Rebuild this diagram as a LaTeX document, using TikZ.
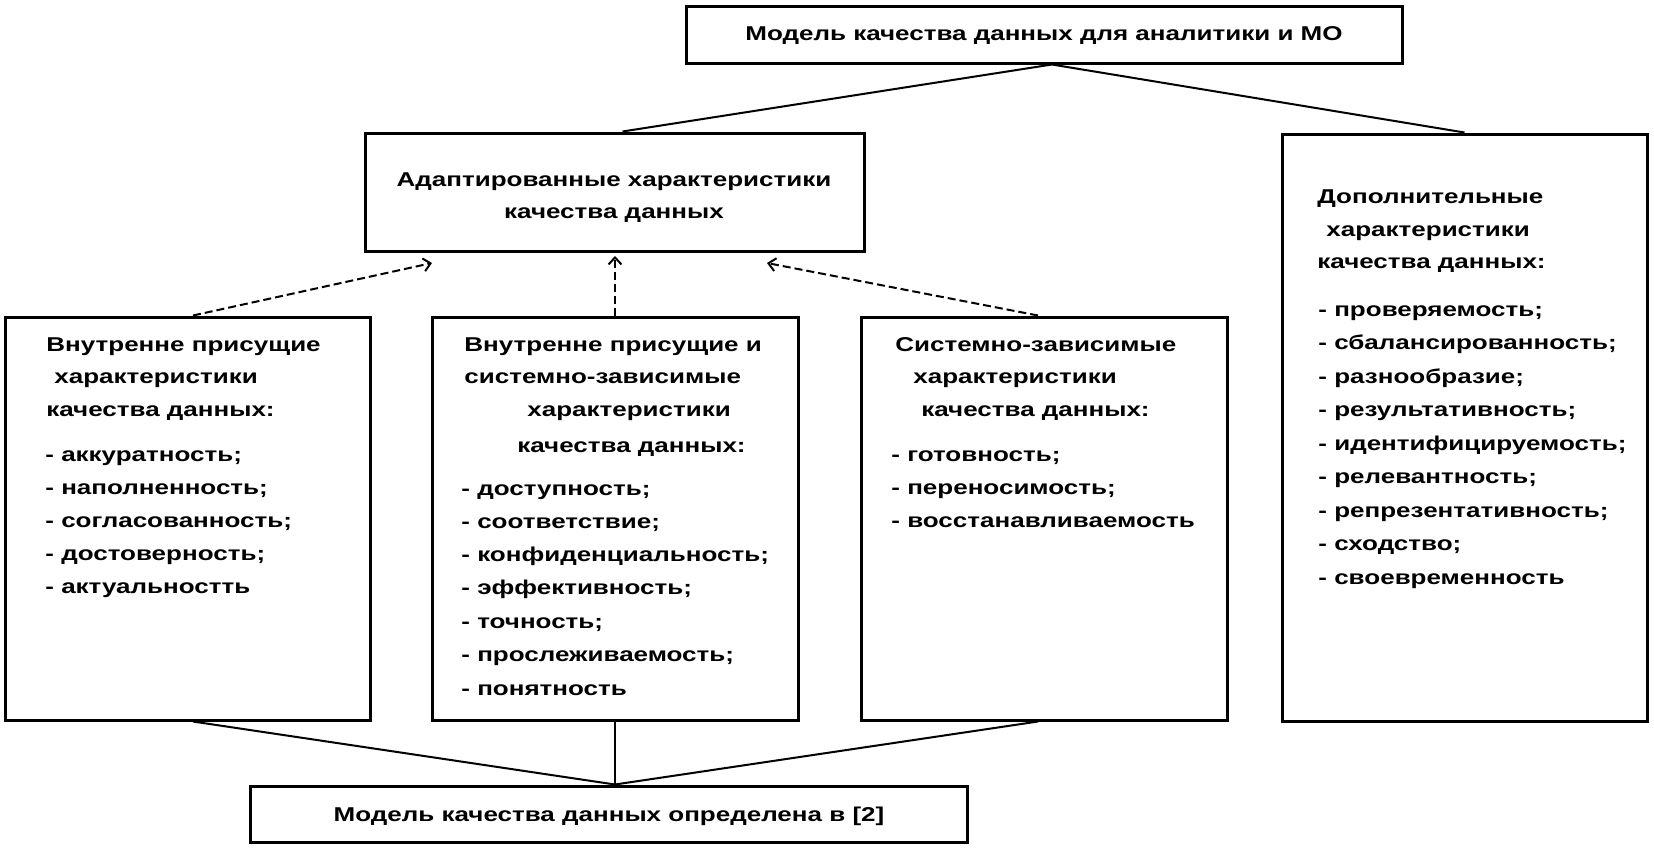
\documentclass[tikz,border=0pt]{standalone}
\usepackage{fontspec}
\setmainfont[FakeStretch=1.3]{Liberation Sans}
\usetikzlibrary{fit,arrows.meta,calc}
\begin{document}
\begin{tikzpicture}[x=0.5pt,y=-0.5pt,
  box/.style={draw, line width=1.5pt, inner sep=0pt},
  tx/.style={anchor=base west, inner sep=0pt, font=\fontsize{10}{12}\selectfont\bfseries},
  ctx/.style={anchor=base, inner sep=0pt, font=\fontsize{10}{12}\selectfont\bfseries},
  conn/.style={line width=1pt},
  thinconn/.style={line width=0.7pt},
  dconn/.style={line width=1pt, dash pattern=on 4pt off 2pt, -{Straight Barb[length=3.5pt,width=6.5pt]}}]
\useasboundingbox (0,0) rectangle (1654,848);
% boxes
\node[box, fit={(686,6) (1402,63)}] (top) {};
\node[box, fit={(365,133) (864,251)}] (adapt) {};
\node[box, fit={(5,317) (370,720)}] (b1) {};
\node[box, fit={(432,317) (798,720)}] (b2) {};
\node[box, fit={(861,317) (1227,720)}] (b3) {};
\node[box, fit={(1282,134) (1647,721)}] (rb) {};
\node[box, fit={(250,786) (967,842)}] (bot) {};
% texts
\node[ctx] (toptxt) at (1044,40) {Модель качества данных для аналитики и МО};
\node[ctx] (ad1) at (614,186) {Адаптированные характеристики};
\node[ctx] (ad2) at (614,218) {качества данных};
\node[ctx] (bottxt) at (609,821) {Модель качества данных определена в [2]};
% box 1
\node[tx] (b1l1) at (46,351) {Внутренне присущие};
\node[tx] (b1l2) at (54,383.5) {характеристики};
\node[tx] (b1l3) at (46,416) {качества данных:};
\node[tx] (b1i1) at (45,461) {- аккуратность;};
\node[tx] (b1i2) at (45,494) {- наполненность;};
\node[tx] (b1i3) at (45,527) {- согласованность;};
\node[tx] (b1i4) at (45,560) {- достоверность;};
\node[tx] (b1i5) at (45,593) {- актуальностть};
% box 2
\node[tx] (b2l1) at (464,351) {Внутренне присущие и};
\node[tx] (b2l2) at (464,383.5) {системно-зависимые};
\node[tx] (b2l3) at (527,416) {характеристики};
\node[tx] (b2l4) at (517,452) {качества данных:};
\node[tx] (b2i1) at (461,495) {- доступность;};
\node[tx] (b2i2) at (461,528) {- соответствие;};
\node[tx] (b2i3) at (461,561) {- конфиденциальность;};
\node[tx] (b2i4) at (461,594.5) {- эффективность;};
\node[tx] (b2i5) at (461,628) {- точность;};
\node[tx] (b2i6) at (461,661.5) {- прослеживаемость;};
\node[tx] (b2i7) at (461,695) {- понятность};
% box 3
\node[tx] (b3l1) at (895,351) {Системно-зависимые};
\node[tx] (b3l2) at (913,383.5) {характеристики};
\node[tx] (b3l3) at (921,416) {качества данных:};
\node[tx] (b3i1) at (891,461) {- готовность;};
\node[tx] (b3i2) at (891,494) {- переносимость;};
\node[tx] (b3i3) at (891,527) {- восстанавливаемость};
% right box
\node[tx] (rl1) at (1317,203) {Дополнительные};
\node[tx] (rl2) at (1326,236) {характеристики};
\node[tx] (rl3) at (1317,268) {качества данных:};
\node[tx] (ri1) at (1318,316) {- проверяемость;};
\node[tx] (ri2) at (1318,349.5) {- сбалансированность;};
\node[tx] (ri3) at (1318,383) {- разнообразие;};
\node[tx] (ri4) at (1318,416.5) {- результативность;};
\node[tx] (ri5) at (1318,450) {- идентифицируемость;};
\node[tx] (ri6) at (1318,483.5) {- релевантность;};
\node[tx] (ri7) at (1318,517) {- репрезентативность;};
\node[tx] (ri8) at (1318,550.5) {- сходство;};
\node[tx] (ri9) at (1318,584) {- своевременность};
% connectors top
\coordinate (tj) at ([xshift=4pt]top.south);
\draw[conn] (tj) -- ([xshift=4pt]adapt.north);
\draw[conn] (tj) -- (rb.north);
% dashed arrows
\coordinate (a1) at (432,263);
\coordinate (a2) at (615,256);
\coordinate (a3) at (767,263);
\draw[dconn] ([xshift=2.75pt]b1.north) -- (a1);
\draw[dconn] (b2.north) -- (a2);
\draw[dconn] ([xshift=-3pt]b3.north) -- (a3);
% bottom connectors
\coordinate (bj) at ([xshift=3.25pt]bot.north);
\draw[conn] ([xshift=2.75pt]b1.south) -- (bj);
\draw[thinconn] (b2.south) -- (bj);
\draw[conn] ([xshift=-3pt]b3.south) -- (bj);
\end{tikzpicture}
\end{document}
